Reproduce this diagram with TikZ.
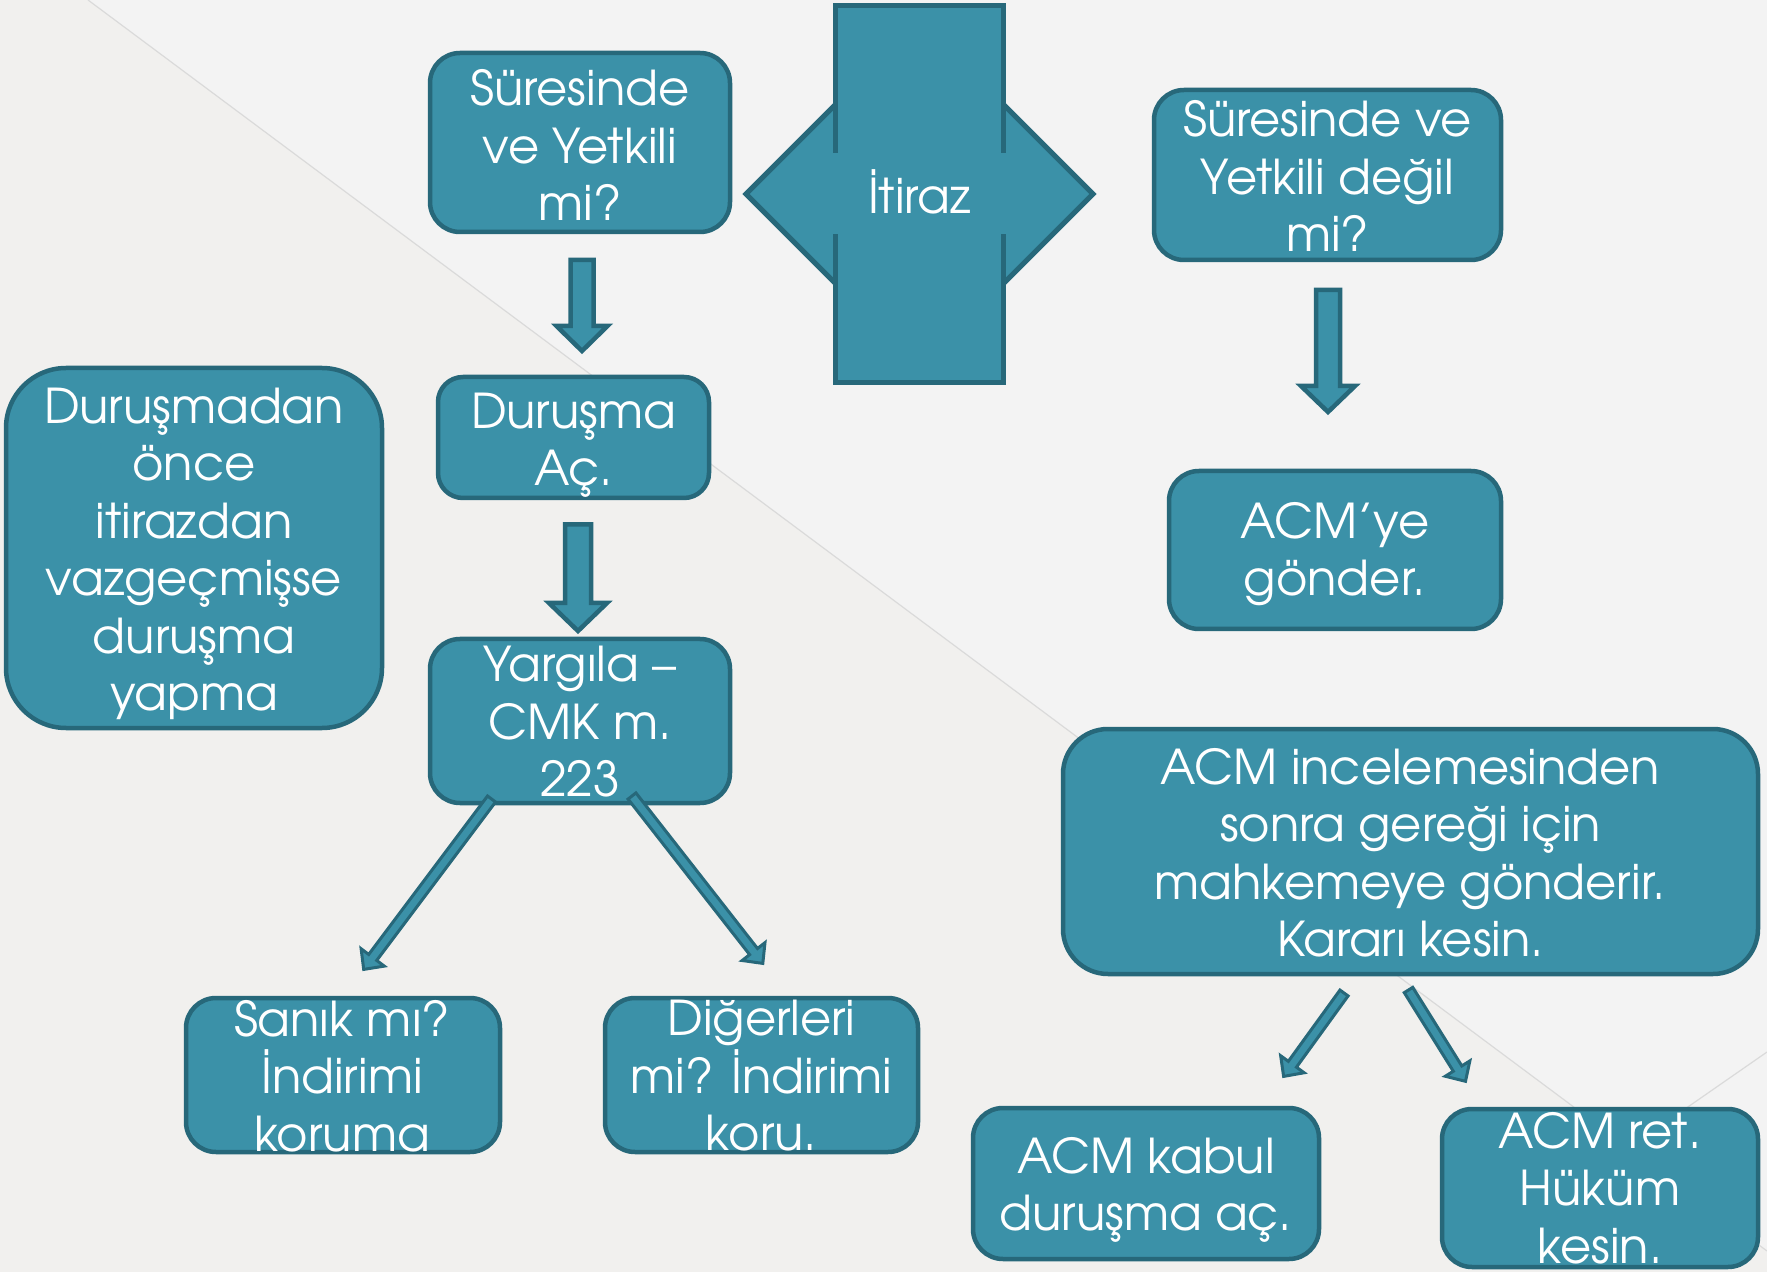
\documentclass[tikz,border=0pt]{standalone}
\usepackage{fontspec}
\setmainfont{texgyreadventor-regular.otf}
\usetikzlibrary{calc}
\definecolor{boxfill}{HTML}{3B91A8}
\definecolor{boxline}{HTML}{27687A}
\definecolor{bgtop}{HTML}{F3F3F3}
\definecolor{bgbot}{HTML}{F1F0EE}
\definecolor{bgline}{HTML}{DADADA}
\tikzset{
  box/.style={draw=boxline, fill=boxfill, line width=2.25pt, rounded corners=15pt, inner sep=0pt},
  lbl/.style={text=white, align=center, inner sep=0pt, font=\fontsize{24}{28.75}\selectfont},
  varrow/.style={draw=boxline, fill=boxfill, line width=2.25pt, line join=miter},
  darrow/.style={draw=boxline, fill=boxfill, line width=1.5pt, line join=miter},
}
\newcommand{\blockarrow}[6]{%
  \coordinate (hb) at ($(#3)!#6!(#2)$);
  \draw[#1] ($(#2)!#4!90:(#3)$) -- ($(hb)!#4!90:(#3)$) -- ($(hb)!#5!90:(#3)$) -- (#3)
    -- ($(hb)!#5!-90:(#3)$) -- ($(hb)!#4!-90:(#3)$) -- ($(#2)!#4!-90:(#3)$) -- cycle;
}
\begin{document}
\begin{tikzpicture}[x=0.5pt,y=-0.5pt]
\useasboundingbox (0,0) rectangle (1767,1272);
% background
\fill[bgtop] (0,0) rectangle (1767,1272);
\fill[bgbot] (0,0) -- (88,0) -- (1767,1251) -- (1767,1272) -- (0,1272) -- cycle;
\draw[bgline, line width=0.6pt] (88,0) -- (1767,1251);
\draw[bgline, line width=0.6pt] (1600,1168) -- (1767,1052);

% Itiraz shape
\draw[draw=boxline, fill=boxfill, line width=2.5pt, line join=miter]
  (746,194) -- (919.5,20.5) -- (1093,194) -- (919.5,367.5) -- cycle;
\node[draw=boxline, fill=boxfill, line width=2.5pt, inner sep=0pt,
  minimum width=84pt, minimum height=188.5pt] (itirazrect) at (919.5,194) {};
\fill[boxfill] (829,153) rectangle (1010,234);
\node[lbl] (itiraz) at (919.5,192) {İtiraz};

% boxes
\node[box, minimum width=150pt, minimum height=89.5pt] (b1) at (580,142.5) {};
\node[lbl] (t1) at (580,145) {Süresinde\\ve Yetkili\\mi?};

\node[box, rounded corners=30pt, minimum width=188pt, minimum height=180pt] (b2) at (194,548) {};
\node[lbl] (t2) at (194,554) {Duruşmadan\\önce\\itirazdan\\vazgeçmişse\\duruşma\\yapma};

\node[box, rounded corners=12.5pt, minimum width=135.5pt, minimum height=60.5pt] (b3) at (573.5,437.5) {};
\node[lbl] (t3) at (573.5,445) {Duruşma\\Aç.};

\node[box, minimum width=150pt, minimum height=82pt] (b4) at (580,721) {};
\node[lbl] (t4) at (580,722) {Yargıla –\\CMK m.\\223};

\node[box, minimum width=173.5pt, minimum height=85pt] (b5) at (1327.5,175) {};
\node[lbl] (t5) at (1327.5,176) {Süresinde ve\\Yetkili değil\\mi?};

\node[box, minimum width=166pt, minimum height=79pt] (b6) at (1335,550) {};
\node[lbl] (t6) at (1335,554) {ACM’ye\\gönder.};

\node[box, rounded corners=22.5pt, minimum width=347.5pt, minimum height=122.5pt] (b7) at (1410.5,851.5) {};
\node[lbl] (t7) at (1410.5,853) {ACM incelemesinden\\sonra gereği için\\mahkemeye gönderir.\\Kararı kesin.};

\node[box, minimum width=157pt, minimum height=77pt] (b8) at (343,1075) {};
\node[lbl] (t8) at (342,1076) {Sanık mı?\\İndirimi\\koruma};

\node[box, minimum width=156.5pt, minimum height=77pt] (b9) at (761.5,1075) {};
\node[lbl] (t9) at (761.5,1076) {Diğerleri\\mi? İndirimi\\koru.};

\node[box, minimum width=173pt, minimum height=75.5pt] (b10) at (1146,1183.5) {};
\node[lbl] (t10) at (1146,1190) {ACM kabul\\duruşma aç.};

\node[box, minimum width=158pt, minimum height=79pt] (b11) at (1600,1188) {};
\node[lbl] (t11) at (1600,1188) {ACM ret.\\Hüküm\\kesin.};

% arrow end points
\coordinate (a1s) at (582,260);   \coordinate (a1e) at (582,351);
\coordinate (a2s) at (578,524.5); \coordinate (a2e) at (578,631);
\coordinate (a3s) at (1328,290);  \coordinate (a3e) at (1328,412);
\coordinate (a4s) at (491.5,799); \coordinate (a4e) at (363.7,969.4);
\coordinate (a5s) at (632,796);   \coordinate (a5e) at (762.8,963.4);
\coordinate (a6s) at (1344,993);  \coordinate (a6e) at (1283.6,1076.4);
\coordinate (a7s) at (1408.5,990);\coordinate (a7e) at (1465.5,1081.3);

\blockarrow{varrow}{a1s}{a1e}{5.75pt}{12.75pt}{12.5pt}
\blockarrow{varrow}{a2s}{a2e}{6.5pt}{14.5pt}{14pt}
\blockarrow{varrow}{a3s}{a3e}{6pt}{13.5pt}{13pt}
\blockarrow{darrow}{a4s}{a4e}{2.5pt}{7.25pt}{7.5pt}
\blockarrow{darrow}{a5s}{a5e}{2.5pt}{7.25pt}{7.5pt}
\blockarrow{darrow}{a6s}{a6e}{2.5pt}{7.25pt}{7.5pt}
\blockarrow{darrow}{a7s}{a7e}{2.5pt}{7.25pt}{7.5pt}
\end{tikzpicture}
\end{document}
